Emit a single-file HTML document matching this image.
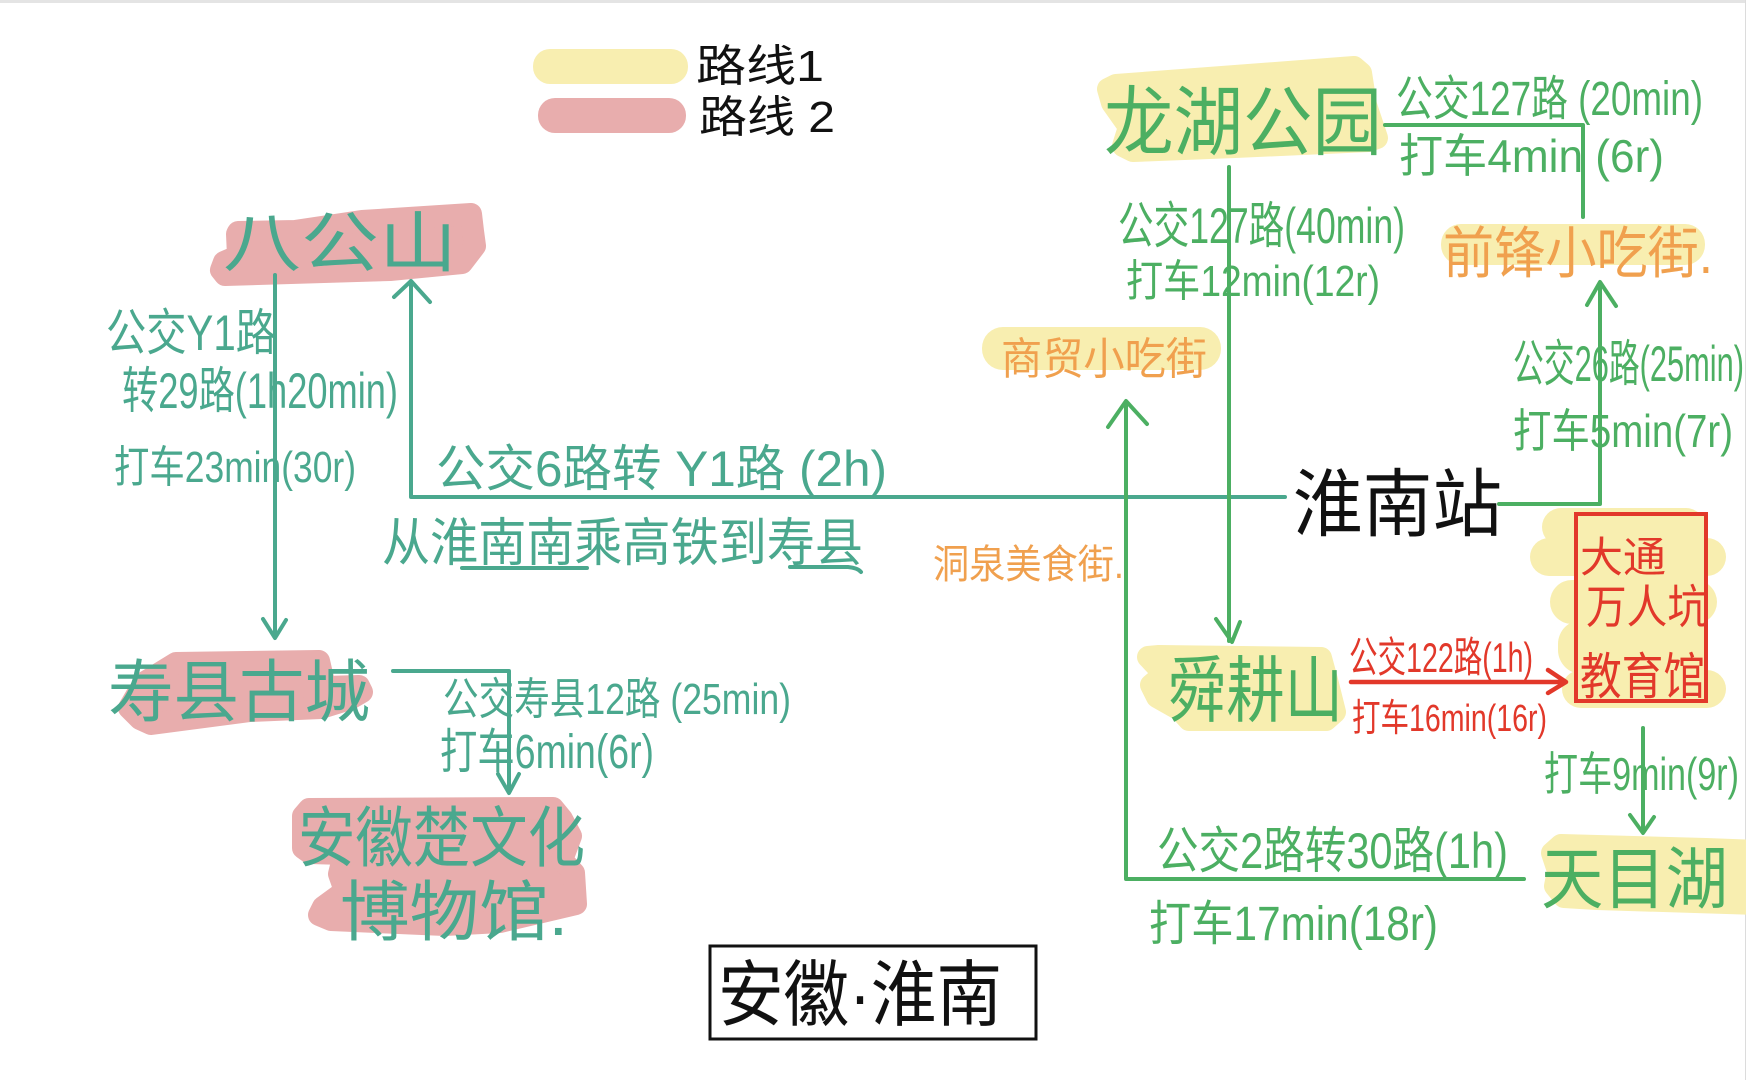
<!DOCTYPE html>
<html lang="zh"><head><meta charset="utf-8"><title>安徽·淮南</title>
<style>
html,body{margin:0;padding:0;background:#fff;overflow:hidden}
svg{display:block}
text{font-family:"Liberation Sans","Noto Sans CJK SC",sans-serif}
.t{fill:#4aa88e}.g{fill:#4caf62}.o{fill:#f0a04e}.r{fill:#e2382a}.k{fill:#111}
.ls{fill:none;stroke:#4aa88e;stroke-width:4;stroke-linecap:round;stroke-linejoin:round}
.lg{fill:none;stroke:#4caf62;stroke-width:4;stroke-linecap:round;stroke-linejoin:round}
.lr{fill:none;stroke:#e2382a;stroke-width:4.5;stroke-linecap:round;stroke-linejoin:round}
.y{fill:#f8eeb0;stroke:#f8eeb0;stroke-width:22;stroke-linejoin:round}
.p{fill:#e8adad;stroke:#e8adad;stroke-width:22;stroke-linejoin:round}
</style></head><body>
<svg width="1746" height="1080" viewBox="0 0 1746 1080" xmlns="http://www.w3.org/2000/svg">
<rect width="1746" height="1080" fill="#fff"/>
<rect width="1746" height="3" fill="#e4e4e4"/>
<rect x="1745" width="1" height="1080" fill="#dcdcdc"/>

<!-- legend -->
<rect x="533" y="49" width="155" height="35" rx="17" fill="#f8eeb0"/>
<rect x="538" y="98" width="148" height="35" rx="17" fill="#e8adad"/>
<text class="k" x="696" y="81" font-size="44" textLength="128" lengthAdjust="spacingAndGlyphs">路线1</text>
<text class="k" x="699" y="132" font-size="44" textLength="136" lengthAdjust="spacingAndGlyphs">路线 2</text>

<!-- highlight blobs -->
<path class="p" d="M238,232 L295,231 L362,221 L471,214 L473,231 L475,246 L462,263 L390,270 L225,275 L221,270 L224,262 L238,256 L237,234Z"/>
<path class="p" d="M176,663 L319,661 L325,687 L359,686 L362,692 L350,699 L321,708 L250,711 L151,724 L140,719 L129,708 L136,696 L145,682Z"/>
<path class="p" d="M309,809 L553,808 L562,819 L571,836 L562,860 L574,873 L576,904 L500,922 L445,925 L331,920 L319,915 L323,907 L345,891 L339,874 L344,854 L310,853 L303,848 L303,816Z"/>
<path class="y" d="M1116,85 L1354,67 L1361,73 L1366,105 L1377,138 L1369,141 L1235,147 L1133,151 L1123,146 L1129,127 L1112,103 L1108,89Z"/>
<rect x="1441" y="224" width="264" height="41" rx="20" fill="#f8eeb0"/>
<rect x="982" y="327" width="239" height="43" rx="21" fill="#f8eeb0"/>
<g fill="#f8eeb0">
<rect x="1542" y="508" width="163" height="38" rx="19"/>
<rect x="1530" y="538" width="196" height="38" rx="19"/>
<rect x="1550" y="580" width="167" height="44" rx="22"/>
<rect x="1558" y="620" width="150" height="54" rx="24"/>
<rect x="1562" y="670" width="164" height="38" rx="19"/>
<rect x="1577" y="514" width="129" height="187"/>
</g>
<path class="y" d="M1159,656 L1321,658 L1327,680 L1335,712 L1326,720 L1189,720 L1180,710 L1157,697 L1151,685 L1164,674 L1148,657Z"/>
<path class="y" d="M1561,845 L1706,849 L1760,851 L1760,904 L1597,899 L1564,897 L1555,886 L1558,871 L1552,853Z"/>

<!-- connectors teal -->
<path class="ls" d="M275,275 V637 M263,619 L275,638 L286,620"/>
<path class="ls" d="M1285,497 H411 V281 M394,297 L411,281 L430,302"/>
<path class="ls" d="M393,671 H509 V792 M498,774 L509,793 L519,774"/>
<path class="ls" d="M462,568 H587 M790,567 H848 Q858,568 861,572"/>
<!-- connectors green -->
<path class="lg" d="M1229,167 V641 M1216,619 L1232,642 L1240,622"/>
<path class="lg" d="M1385,125 H1583 V217"/>
<path class="lg" d="M1499,504 H1600 V284 M1587,305 L1600,282 L1616,306"/>
<path class="lg" d="M1524,879 H1126 V402 M1108,427 L1126,401 L1147,424"/>
<path class="lg" d="M1643,728 V832 M1630,815 L1643,833 L1654,817"/>
<path class="lr" d="M1351,682 H1565 M1548,670 L1566,682 L1548,693"/>
<rect x="1576" y="514" width="130" height="187" fill="none" stroke="#e2382a" stroke-width="4"/>

<!-- place names -->
<text class="t" x="223" y="266" font-size="66" textLength="234" lengthAdjust="spacingAndGlyphs">八公山</text>
<text class="t" x="108" y="716" font-size="68" textLength="262" lengthAdjust="spacingAndGlyphs">寿县古城</text>
<text class="t" x="298" y="861" font-size="66" textLength="287" lengthAdjust="spacingAndGlyphs">安徽楚文化</text>
<text class="t" x="340" y="935" font-size="66" textLength="228" lengthAdjust="spacingAndGlyphs">博物馆.</text>
<text class="g" x="1104" y="149" font-size="76" textLength="278" lengthAdjust="spacingAndGlyphs">龙湖公园</text>
<text class="g" x="1168" y="716" font-size="72" textLength="175" lengthAdjust="spacingAndGlyphs">舜耕山</text>
<text class="g" x="1541" y="903" font-size="68" textLength="187" lengthAdjust="spacingAndGlyphs">天目湖</text>
<text class="o" x="1443" y="273" font-size="56" textLength="270" lengthAdjust="spacingAndGlyphs">前锋小吃街.</text>
<text class="o" x="1001" y="374" font-size="44" textLength="206" lengthAdjust="spacingAndGlyphs">商贸小吃街</text>
<text class="o" x="933" y="578" font-size="40" textLength="191" lengthAdjust="spacingAndGlyphs">洞泉美食街.</text>
<text class="k" x="1293" y="530" font-size="74" textLength="209" lengthAdjust="spacingAndGlyphs">淮南站</text>
<text class="r" x="1580" y="572" font-size="42" textLength="86" lengthAdjust="spacingAndGlyphs">大通</text>
<text class="r" x="1586" y="623" font-size="46" textLength="122" lengthAdjust="spacingAndGlyphs">万人坑</text>
<text class="r" x="1580" y="694" font-size="50" textLength="125" lengthAdjust="spacingAndGlyphs">教育馆</text>

<!-- teal labels -->
<text class="t" x="106" y="350" font-size="50" textLength="170" lengthAdjust="spacingAndGlyphs">公交Y1路</text>
<text class="t" x="122" y="408" font-size="50" textLength="276" lengthAdjust="spacingAndGlyphs">转29路(1h20min)</text>
<text class="t" x="114" y="482" font-size="44" textLength="242" lengthAdjust="spacingAndGlyphs">打车23min(30r)</text>
<text class="t" x="436" y="486" font-size="50" textLength="451" lengthAdjust="spacingAndGlyphs">公交6路转 Y1路 (2h)</text>
<text class="t" x="382" y="561" font-size="52" textLength="481" lengthAdjust="spacingAndGlyphs">从淮南南乘高铁到寿县</text>
<text class="t" x="443" y="714" font-size="44" textLength="348" lengthAdjust="spacingAndGlyphs">公交寿县12路 (25min)</text>
<text class="t" x="440" y="768" font-size="48" textLength="214" lengthAdjust="spacingAndGlyphs">打车6min(6r)</text>

<!-- green labels -->
<text class="g" x="1396" y="115" font-size="48" textLength="307" lengthAdjust="spacingAndGlyphs">公交127路 (20min)</text>
<text class="g" x="1399" y="172" font-size="46" textLength="265" lengthAdjust="spacingAndGlyphs">打车4min (6r)</text>
<text class="g" x="1118" y="243" font-size="50" textLength="287" lengthAdjust="spacingAndGlyphs">公交127路(40min)</text>
<text class="g" x="1126" y="296" font-size="44" textLength="254" lengthAdjust="spacingAndGlyphs">打车12min(12r)</text>
<text class="g" x="1513" y="381" font-size="50" textLength="231" lengthAdjust="spacingAndGlyphs">公交26路(25min)</text>
<text class="g" x="1513" y="447" font-size="46" textLength="220" lengthAdjust="spacingAndGlyphs">打车5min(7r)</text>
<text class="g" x="1544" y="790" font-size="46" textLength="195" lengthAdjust="spacingAndGlyphs">打车9min(9r)</text>
<text class="g" x="1157" y="868" font-size="50" textLength="351" lengthAdjust="spacingAndGlyphs">公交2路转30路(1h)</text>
<text class="g" x="1149" y="940" font-size="48" textLength="289" lengthAdjust="spacingAndGlyphs">打车17min(18r)</text>

<!-- red labels -->
<text class="r" x="1349" y="672" font-size="42" textLength="184" lengthAdjust="spacingAndGlyphs">公交122路(1h)</text>
<text class="r" x="1352" y="731" font-size="38" textLength="195" lengthAdjust="spacingAndGlyphs">打车16min(16r)</text>

<!-- title -->
<rect x="710" y="946" width="326" height="93" fill="#fff" stroke="#111" stroke-width="3"/>
<text class="k" x="718" y="1020" font-size="72" textLength="284" lengthAdjust="spacingAndGlyphs">安徽·淮南</text>
</svg>
</body></html>
